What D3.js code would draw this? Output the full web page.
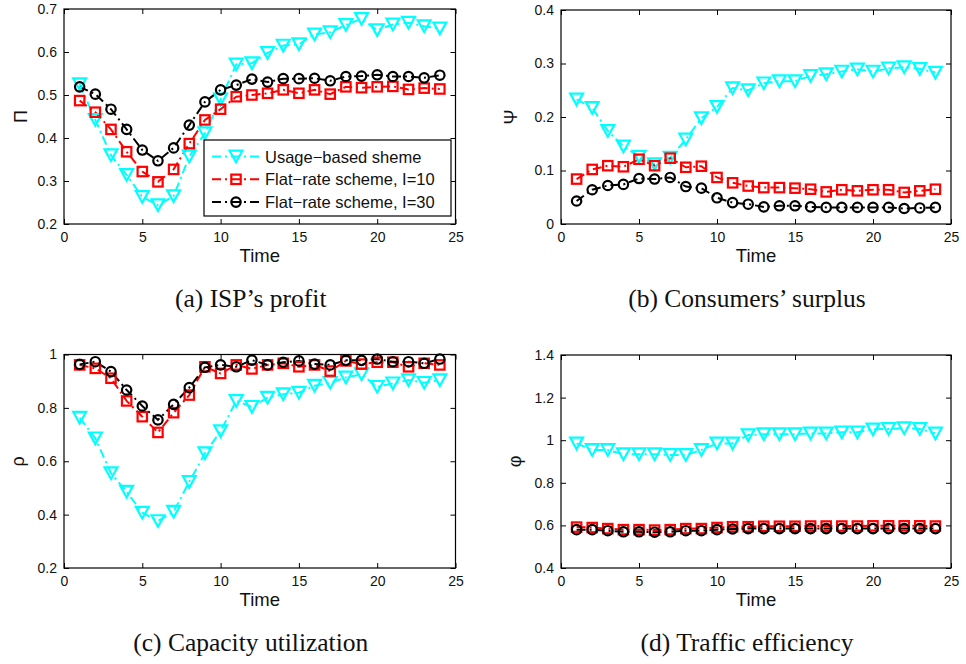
<!DOCTYPE html>
<html>
<head>
<meta charset="utf-8">
<script src="https://cdn.jsdelivr.net/npm/d3@7"></script>
<style>
  html, body { margin: 0; padding: 0; background: #fff; }
  svg { display: block; }
  .tick text { font-family: "Liberation Sans", Arial, sans-serif; font-size: 14px; fill: #111; }
</style>
</head>
<body>
<svg id="fig" width="966" height="664"></svg>
<script>
// Time slots shared by all four panels
const time = [1,2,3,4,5,6,7,8,9,10,11,12,13,14,15,16,17,18,19,20,21,22,23,24];
const xTicks = [0,5,10,15,20,25];

const seriesNames = ["Usage\u2212based sheme", "Flat\u2212rate scheme, I=10", "Flat\u2212rate scheme, I=30"];

// (a) ISP's profit
const profitUsage  = [0.525,0.442,0.360,0.314,0.263,0.244,0.265,0.357,0.411,0.490,0.571,0.574,0.598,0.615,0.618,0.641,0.646,0.663,0.677,0.651,0.664,0.668,0.660,0.655];
const profitFlat10 = [0.487,0.460,0.420,0.368,0.322,0.298,0.327,0.387,0.442,0.467,0.496,0.500,0.504,0.512,0.504,0.512,0.502,0.519,0.517,0.519,0.520,0.513,0.516,0.514];
const profitFlat30 = [0.519,0.502,0.467,0.420,0.372,0.347,0.377,0.430,0.484,0.512,0.523,0.537,0.530,0.538,0.538,0.539,0.533,0.543,0.544,0.547,0.543,0.543,0.540,0.546];
const profitTicks  = [0.2,0.3,0.4,0.5,0.6,0.7];

// (b) Consumers' surplus
const surplusUsage  = [0.233,0.217,0.174,0.145,0.126,0.112,0.124,0.158,0.198,0.219,0.254,0.250,0.263,0.267,0.267,0.277,0.280,0.285,0.289,0.285,0.291,0.293,0.290,0.283];
const surplusFlat10 = [0.084,0.102,0.109,0.107,0.121,0.109,0.123,0.106,0.108,0.087,0.077,0.071,0.068,0.068,0.067,0.065,0.060,0.064,0.062,0.064,0.064,0.059,0.062,0.065];
const surplusFlat30 = [0.043,0.064,0.072,0.074,0.085,0.084,0.087,0.070,0.067,0.049,0.040,0.037,0.032,0.034,0.034,0.032,0.031,0.031,0.031,0.031,0.031,0.029,0.030,0.031];
const surplusTicks  = [0,0.1,0.2,0.3,0.4];

// (c) Capacity utilization
const utilUsage  = [0.763,0.686,0.555,0.486,0.407,0.376,0.411,0.523,0.630,0.713,0.826,0.804,0.838,0.851,0.857,0.883,0.894,0.914,0.926,0.879,0.892,0.904,0.894,0.904];
const utilFlat10 = [0.961,0.948,0.911,0.826,0.767,0.708,0.782,0.848,0.954,0.929,0.961,0.946,0.961,0.967,0.954,0.961,0.938,0.976,0.964,0.971,0.971,0.954,0.967,0.961];
const utilFlat30 = [0.963,0.973,0.936,0.867,0.807,0.755,0.813,0.876,0.952,0.961,0.954,0.979,0.961,0.971,0.976,0.964,0.961,0.978,0.978,0.983,0.973,0.973,0.967,0.983];
const utilTicks  = [0.2,0.4,0.6,0.8,1];

// (d) Traffic efficiency
const effUsage  = [0.985,0.954,0.954,0.934,0.934,0.934,0.931,0.931,0.954,0.985,0.985,1.024,1.028,1.028,1.028,1.032,1.032,1.037,1.037,1.051,1.053,1.056,1.053,1.032];
const effFlat10 = [0.592,0.590,0.585,0.580,0.580,0.578,0.580,0.585,0.585,0.590,0.594,0.594,0.596,0.596,0.596,0.597,0.597,0.597,0.597,0.598,0.598,0.598,0.598,0.597];
const effFlat30 = [0.580,0.580,0.575,0.570,0.570,0.568,0.570,0.575,0.575,0.580,0.583,0.585,0.585,0.585,0.585,0.585,0.585,0.585,0.585,0.585,0.585,0.585,0.585,0.585];
const effTicks  = [0.4,0.6,0.8,1,1.2,1.4];

const colors  = ["#00ffff", "#ff0000", "#000000"];
const symbols = ["triangle", "square", "circle"];

const svg = d3.select("#fig");
const tickFmt = d => String(+d.toFixed(2));

function drawMarker(g, kind, x, y, color) {
  if (kind === "triangle") {
    const w = 6.4, h = 5.8;
    g.append("path")
      .attr("d", `M${x - w},${y - h} L${x + w},${y - h} L${x},${y + h} Z`)
      .attr("fill", "none").attr("stroke", color).attr("stroke-width", 2.2)
      .attr("stroke-linejoin", "miter");
  } else if (kind === "square") {
    g.append("rect")
      .attr("x", x - 4.7).attr("y", y - 4.7).attr("width", 9.4).attr("height", 9.4)
      .attr("fill", "none").attr("stroke", color).attr("stroke-width", 2.2);
  } else {
    g.append("circle")
      .attr("cx", x).attr("cy", y).attr("r", 4.7)
      .attr("fill", "none").attr("stroke", color).attr("stroke-width", 2.2);
  }
}

function panel(opt) {
  const { left, right, top, bottom, yDomain, yTicks, series, ylabel, ylabelGap, caption } = opt;
  const x = d3.scaleLinear().domain([0, 25]).range([left, right]);
  const y = d3.scaleLinear().domain(yDomain).range([bottom, top]);
  const g = svg.append("g");

  // ticks on all four sides, pointing inward
  const axB = d3.axisBottom(x).tickValues(xTicks).tickSize(-5).tickPadding(8).tickFormat(tickFmt);
  const axT = d3.axisTop(x).tickValues(xTicks).tickSize(-5).tickFormat("");
  const axL = d3.axisLeft(y).tickValues(yTicks).tickSize(-5).tickPadding(7).tickFormat(tickFmt);
  const axR = d3.axisRight(y).tickValues(yTicks).tickSize(-5).tickFormat("");

  const gb = g.append("g").attr("transform", `translate(0,${bottom})`).call(axB);
  const gt = g.append("g").attr("transform", `translate(0,${top})`).call(axT);
  const gl = g.append("g").attr("transform", `translate(${left},0)`).call(axL);
  const gr = g.append("g").attr("transform", `translate(${right},0)`).call(axR);
  [gb, gt, gl, gr].forEach(a => {
    a.select(".domain").remove();
    a.selectAll(".tick line").attr("stroke", "#000").attr("stroke-width", 1);
  });
  gb.selectAll(".tick text").attr("dy", "0.71em");

  // data lines and markers
  const line = d3.line().x((d, i) => x(time[i])).y(d => y(d));
  series.forEach((vals, k) => {
    g.append("path").datum(vals)
      .attr("d", line)
      .attr("fill", "none")
      .attr("stroke", colors[k])
      .attr("stroke-width", 2)
      .attr("stroke-dasharray", "9,4,2,4");
  });
  series.forEach((vals, k) => {
    vals.forEach((v, i) => drawMarker(g, symbols[k], x(time[i]), y(v), colors[k]));
  });

  // frame
  g.append("rect")
    .attr("x", left).attr("y", top).attr("width", right - left).attr("height", bottom - top)
    .attr("fill", "none").attr("stroke", "#000").attr("stroke-width", 1.2);

  // axis titles
  g.append("text")
    .attr("x", (left + right) / 2).attr("y", bottom + 38)
    .attr("text-anchor", "middle")
    .style("font-family", "'Liberation Sans', Arial, sans-serif")
    .style("font-size", "18.5px").attr("fill", "#111")
    .text("Time");
  g.append("text")
    .attr("transform", `translate(${left - ylabelGap},${(top + bottom) / 2}) rotate(-90)`)
    .attr("text-anchor", "middle")
    .style("font-family", "'Liberation Sans', Arial, sans-serif")
    .style("font-size", "18px").attr("fill", "#111")
    .text(ylabel);

  // caption
  g.append("text")
    .attr("x", (left + right) / 2 - 9).attr("y", bottom + 83)
    .attr("text-anchor", "middle")
    .style("font-family", "'Liberation Serif', 'Times New Roman', serif")
    .style("font-size", "25.5px").attr("fill", "#111")
    .text(caption);

  return { g, x, y };
}

const pa = panel({ left: 64, right: 455.5, top: 9, bottom: 224, yDomain: [0.2, 0.7], yTicks: profitTicks,
  series: [profitUsage, profitFlat10, profitFlat30], ylabel: "\u03A0", ylabelGap: 37, caption: "(a) ISP\u2019s profit" });
panel({ left: 561, right: 951, top: 10, bottom: 224, yDomain: [0, 0.4], yTicks: surplusTicks,
  series: [surplusUsage, surplusFlat10, surplusFlat30], ylabel: "\u03A8", ylabelGap: 44, caption: "(b) Consumers\u2019 surplus" });
panel({ left: 64, right: 455.5, top: 354.5, bottom: 568, yDomain: [0.2, 1], yTicks: utilTicks,
  series: [utilUsage, utilFlat10, utilFlat30], ylabel: "\u03C1", ylabelGap: 40, caption: "(c) Capacity utilization" });
panel({ left: 561, right: 951, top: 355, bottom: 568, yDomain: [0.4, 1.4], yTicks: effTicks,
  series: [effUsage, effFlat10, effFlat30], ylabel: "\u03C6", ylabelGap: 40, caption: "(d) Traffic efficiency" });

// legend in panel (a)
const leg = pa.g.append("g");
const lx = 204, ly = 140, lw = 247, lh = 76;
leg.append("rect").attr("x", lx).attr("y", ly).attr("width", lw).attr("height", lh)
  .attr("fill", "#fff").attr("stroke", "#000").attr("stroke-width", 1.2);
seriesNames.forEach((name, k) => {
  const cy = ly + 16.5 + k * 22.8;
  leg.append("line").attr("x1", lx + 8).attr("x2", lx + 56).attr("y1", cy).attr("y2", cy)
    .attr("stroke", colors[k]).attr("stroke-width", 2).attr("stroke-dasharray", "9,4,2,4");
  drawMarker(leg, symbols[k], lx + 32, cy, colors[k]);
  leg.append("text").attr("x", lx + 61).attr("y", cy + 6)
    .style("font-family", "'Liberation Sans', Arial, sans-serif")
    .style("font-size", "16.5px").attr("fill", "#111")
    .text(name);
});
</script>
</body>
</html>
